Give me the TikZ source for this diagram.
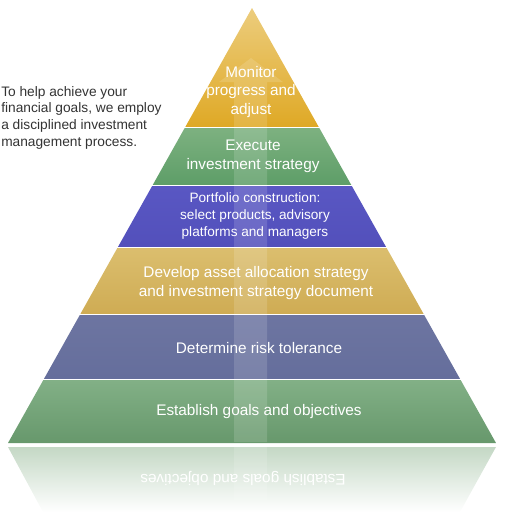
\documentclass[tikz,border=0pt]{standalone}
\usepackage{fontspec}
\setmainfont{Liberation Sans}
\usepackage{xcolor}

\definecolor{monitortop}{HTML}{EDCF83}
\definecolor{monitorbot}{HTML}{DFA926}
\definecolor{executetop}{HTML}{7DB180}
\definecolor{executebot}{HTML}{5E9E68}
\definecolor{portfoliotop}{HTML}{5957C3}
\definecolor{portfoliobot}{HTML}{5350BB}
\definecolor{developtop}{HTML}{DBBE6E}
\definecolor{developbot}{HTML}{CFAC54}
\definecolor{risktop}{HTML}{6D75A1}
\definecolor{riskbot}{HTML}{656E9C}
\definecolor{goalstop}{HTML}{82B086}
\definecolor{goalsbot}{HTML}{67986C}
\definecolor{refltop}{HTML}{C4D8C5}
\definecolor{reflmid}{HTML}{D0E1D1}
\definecolor{introgray}{HTML}{333333}

\begin{document}
\begin{tikzpicture}[x=0.75pt, y=-0.75pt,
    bandtext/.style={text=white, align=center, inner sep=0pt, font=\fontsize{11.5}{14}\selectfont},
    smalltext/.style={bandtext, font=\fontsize{10.2}{12.8}\selectfont},
    introtext/.style={text=introgray, align=left, inner sep=0pt, anchor=north west, font=\fontsize{10.3}{12.5}\selectfont},
    glass/.style={fill=white, opacity=0.14}]

    \useasboundingbox (0,0) rectangle (508,525);

    % pyramid bands
    \begin{scope}
        \clip (252,8) -- (496,443) -- (8,443) -- cycle;
        \foreach \ytop/\ybot/\band in {0/126/monitor, 128/184/execute, 186/246/portfolio, 248/313/develop, 315/378/risk, 380/443/goals}
            \shade[top color=\band top, bottom color=\band bot] (0,\ytop) rectangle (508,\ybot);
    \end{scope}

    % reflection
    \shade[top color=refltop, middle color=reflmid, bottom color=white] (8,447) -- (496,447) -- (460,512) -- (43,512) -- cycle;

    % upward arrow
    \fill[glass] (234,442) -- (234,82) -- (219,82) -- (251,58) -- (283,82) -- (267,82) -- (267,442) -- cycle;
    \fill[glass] (234,447) rectangle (267,500);

    \node[bandtext] (monitor) at (251,92) {Monitor\\progress and\\adjust};
    \node[bandtext] (execute) at (253,156) {Execute\\investment strategy};
    \node[smalltext] (portfolio) at (255,216) {Portfolio construction:\\select products, advisory\\platforms and managers};
    \node[bandtext] (develop) at (256,283) {Develop asset allocation strategy\\and investment strategy document};
    \node[bandtext] (risk) at (259,348) {Determine risk tolerance};
    \node[bandtext] (goals) at (259,412) {Establish goals and objectives};
    \node[bandtext, rotate=180] (goalsrefl) at (243,478) {Establish goals and objectives};

    \node[introtext] (intro) at (1,86) {To help achieve your\\financial goals, we employ\\a disciplined investment\\management process.};
\end{tikzpicture}
\end{document}
